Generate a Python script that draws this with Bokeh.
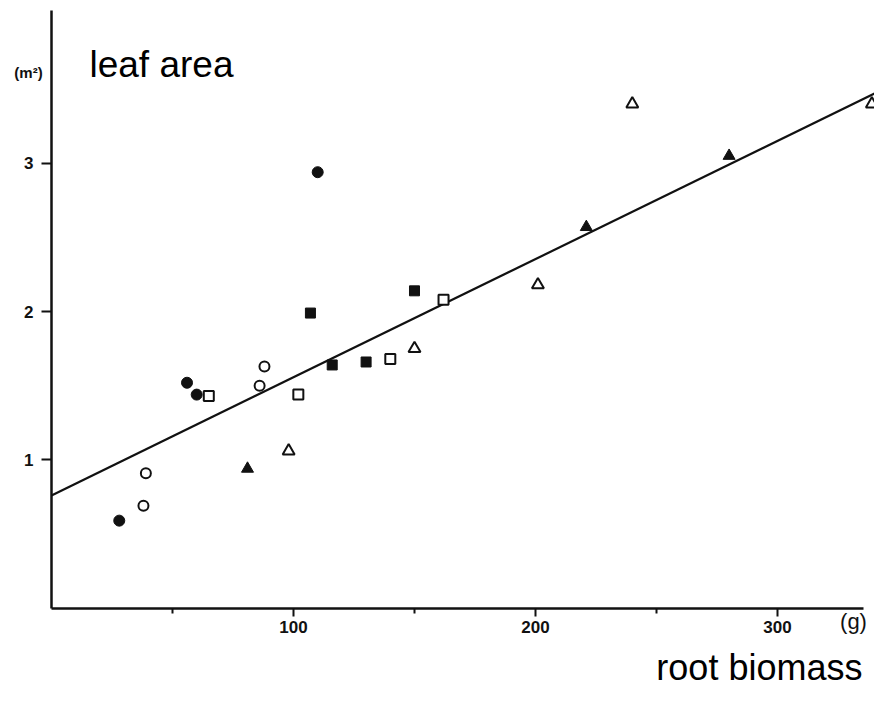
from bokeh.plotting import figure
from bokeh.models import FixedTicker, Label, Range1d
from bokeh.embed import file_html
from bokeh.resources import INLINE

# ---- data ----
filled_circle_x = [28, 56, 60, 110]
filled_circle_y = [0.59, 1.52, 1.44, 2.94]
open_circle_x = [39, 38, 86, 88]
open_circle_y = [0.91, 0.69, 1.50, 1.63]
open_square_x = [65, 102, 140, 162]
open_square_y = [1.43, 1.44, 1.68, 2.08]
filled_square_x = [107, 116, 130, 150]
filled_square_y = [1.99, 1.64, 1.66, 2.14]
open_triangle_x = [98, 150, 201, 240, 339]
open_triangle_y = [1.06, 1.75, 2.18, 3.40, 3.40]
filled_triangle_x = [81, 221, 280]
filled_triangle_y = [0.94, 2.57, 3.05]

fit_intercept = 0.76
fit_slope = 0.00797
fit_x = [0, 341]
fit_y = [fit_intercept + fit_slope * v for v in fit_x]

x_ticks = [100, 200, 300]
x_minor_ticks = [50, 150, 250]
x_tick_labels = {100: "100", 200: "200", 300: "300"}
y_ticks = [1, 2, 3]
y_tick_labels = {1: "1", 2: "2", 3: "3"}
x_axis_extent = (0, 335.5)
y_axis_extent = (0, 4.03)

x_title = "root biomass"
y_title = "leaf area"
x_unit = "(g)"
y_unit = "(m²)"

INK = "#111111"
FONT = "Liberation Sans"

p = figure(width=874, height=700, output_backend="svg", toolbar_location=None,
           x_range=Range1d(-21.07, 340.08), y_range=Range1d(-0.623, 4.098),
           min_border=0, x_axis_location="below", y_axis_location="left")
p.outline_line_color = None
p.xgrid.visible = False
p.ygrid.visible = False
p.background_fill_color = "white"
p.border_fill_color = "white"

# axes drawn at the data origin, limited to their drawn extent
p.xaxis.fixed_location = 0
p.yaxis.fixed_location = 0
p.xaxis.bounds = x_axis_extent
p.yaxis.bounds = y_axis_extent
p.xaxis.ticker = FixedTicker(ticks=x_ticks, minor_ticks=x_minor_ticks)
p.xaxis.major_label_overrides = x_tick_labels
p.yaxis.ticker = FixedTicker(ticks=y_ticks, minor_ticks=[])
p.yaxis.major_label_overrides = y_tick_labels
for ax in (p.xaxis, p.yaxis):
    ax.axis_line_color = INK
    ax.axis_line_width = 2.5
    ax.major_tick_line_color = INK
    ax.major_tick_line_width = 2
    ax.major_tick_in = 0
    ax.minor_tick_line_color = INK
    ax.minor_tick_line_width = 2
    ax.minor_tick_in = 0
    ax.major_label_text_color = INK
    ax.major_label_text_font = FONT
    ax.major_label_text_font_size = "17px"
    ax.major_label_text_font_style = "bold"
p.xaxis.major_tick_out = 8
p.xaxis.minor_tick_out = 5
p.xaxis.major_label_standoff = 5
p.yaxis.major_tick_out = 10
p.yaxis.minor_tick_out = 0
p.yaxis.major_label_standoff = 8

# regression line
p.line(fit_x, fit_y, line_color=INK, line_width=2.2)

# points
p.scatter(filled_circle_x, filled_circle_y, marker="circle", size=11,
          fill_color=INK, line_color=INK)
p.scatter(open_circle_x, open_circle_y, marker="circle", size=10,
          fill_color="white", line_color=INK, line_width=2)
p.scatter(open_square_x, open_square_y, marker="square", size=10,
          fill_color="white", line_color=INK, line_width=2)
p.scatter(filled_square_x, filled_square_y, marker="square", size=10,
          fill_color=INK, line_color=INK)
p.scatter(open_triangle_x, open_triangle_y, marker="triangle", size=12,
          fill_color="white", line_color=INK, line_width=2)
p.scatter(filled_triangle_x, filled_triangle_y, marker="triangle", size=12,
          fill_color=INK, line_color=INK)

# texts
p.add_layout(Label(x=15.7, y=3.667, text=y_title, text_font=FONT,
                   text_font_size="37px", text_color="black",
                   text_baseline="alphabetic", text_align="left"))
p.add_layout(Label(x=335.1, y=-0.40, text=x_title, text_font=FONT,
                   text_font_size="36px", text_color="black",
                   text_baseline="alphabetic", text_align="right"))
p.add_layout(Label(x=-9.5, y=3.613, text=y_unit, text_font=FONT,
                   text_font_size="15px", text_font_style="bold", text_color=INK,
                   text_baseline="middle", text_align="center"))
p.add_layout(Label(x=331.4, y=-0.09, text=x_unit, text_font=FONT,
                   text_font_size="22px", text_color=INK,
                   text_baseline="middle", text_align="center"))

open("out.html", "w").write(file_html(p, INLINE))
